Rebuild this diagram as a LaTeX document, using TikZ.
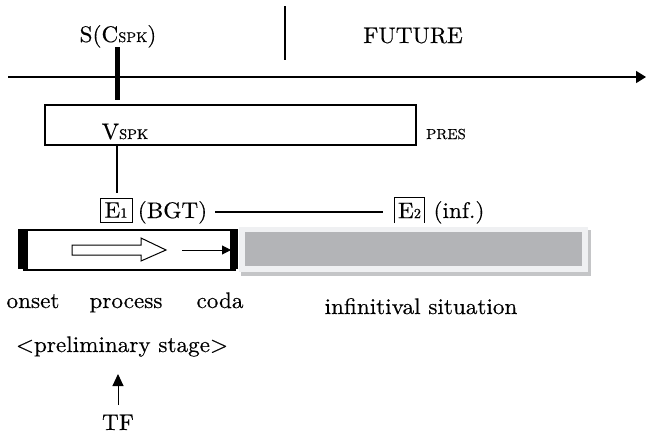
\documentclass[tikz,border=0pt]{standalone}
\usepackage{fontspec}
\setmainfont{lmroman10-regular.otf}[FakeStretch=1.03,FakeBold=0.4]
\usetikzlibrary{arrows.meta}
\definecolor{framegray}{HTML}{EFF0F2}
\definecolor{bargray}{HTML}{B3B4B7}
\definecolor{shadowgray}{HTML}{C4C5C7}
\tikzset{
 txt/.style={inner sep=0pt, anchor=base, font=\fontsize{22.5}{26}\selectfont},
 smalltxt/.style={inner sep=0pt, anchor=base, font=\fontsize{14.5}{16}\selectfont},
 rule/.style={line width=1.6pt},
 thin/.style={line width=1pt},
}
\newcommand{\subsc}[1]{{\fontsize{14}{14}\selectfont #1}}
\begin{document}
\begin{tikzpicture}[x=1pt,y=-1pt]
\useasboundingbox (0,0) rectangle (646,434);
% top labels
\node[txt] (S) at (118,42) {S(C\subsc{SPK})};
\node[txt] (fut) at (413,43) {FUTURE};
\coordinate (d1) at (285,6); \coordinate (d2) at (285,60);
\draw[rule] (d1)--(d2);
% time line
\coordinate (t0) at (8,77); \coordinate (t1) at (646,77);
\draw[rule,-{Triangle[length=10pt,width=12pt]}] (t0)--(t1);
\coordinate (b1) at (117,47); \coordinate (b2) at (117,100);
\draw[line width=5pt] (b1)--(b2);
% PRES box
\node[draw, line width=1.6pt, minimum width=371pt, minimum height=40pt, anchor=north west, inner sep=0pt] (pres) at (44,104) {};
\node[txt] (V) at (125,139) {V\subsc{SPK}};
\node[smalltxt] (PRES) at (446,139) {PRES};
\coordinate (l1) at (117,144); \coordinate (l2) at (117,193);
\draw[line width=1.2pt] (l1)--(l2);
% E1, E2
\node[draw, thin, inner sep=0pt, minimum width=32pt, minimum height=24pt, font=\fontsize{22.5}{26}\selectfont] (E1) at (116,210) {E\subsc{1}};
\node[txt] (bgt) at (172.5,218) {(BGT)};
\coordinate (h1) at (215,212); \coordinate (h2) at (383,212);
\draw[rule] (h1)--(h2);
\node[inner sep=0pt, minimum width=29pt, minimum height=25pt, font=\fontsize{22.5}{26}\selectfont] (E2) at (409.5,210.5) {E\subsc{2}};
\draw[thin] (E2.south west)--(E2.north west)--(E2.north east)--(E2.south east);
\node[txt] (inf) at (459,218) {(inf.)};
% infinitival bar
\fill[shadowgray] (241,230) rectangle (591,276);
\fill[framegray] (239,227) rectangle (588,272);
\fill[bargray] (245,232) rectangle (582,266);
% preliminary stage box
\draw[line width=2.5pt] (24,230)--(236,230);
\draw[rule] (23,270)--(236,270);
\fill (18,229) rectangle (28,269);
\fill (230,229) rectangle (238,269);
\draw[thin, fill=white] (72,245)--(141,245)--(141,238)--(166,250)--(141,261)--(141,255)--(72,255)--cycle;
\coordinate (a1) at (182,250); \coordinate (a2) at (231,250);
\draw[thin,-{Triangle[length=9pt,width=9pt]}] (a1)--(a2);
% labels
\node[txt] (onset) at (33,308) {onset};
\node[txt] (process) at (126,308) {process};
\node[txt] (coda) at (220,308) {coda};
\node[txt] (infsit) at (421,314) {infinitival situation};
\node[txt] (prelim) at (122,352) {\textless preliminary stage\textgreater};
\coordinate (u1) at (118,405); \coordinate (u2) at (118,374);
\draw[thin,-{Triangle[length=12pt,width=11pt]}] (u1)--(u2);
\node[txt] (TF) at (118,430) {TF};
\end{tikzpicture}
\end{document}
